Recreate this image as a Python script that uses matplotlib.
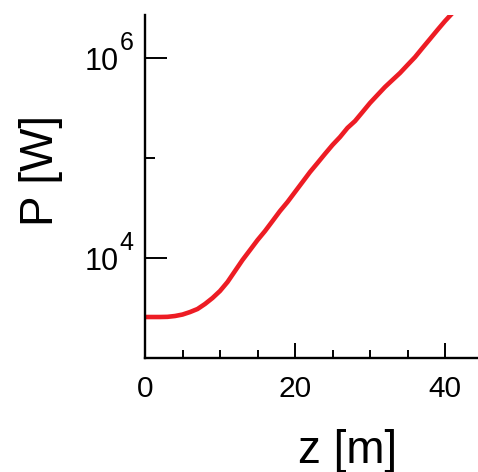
import matplotlib
matplotlib.use("Agg")
import matplotlib.pyplot as plt
import matplotlib.transforms as mtransforms
from matplotlib.ticker import FixedLocator, NullFormatter

plt.rcParams['font.family'] = ['Liberation Sans', 'DejaVu Sans']

# data
z_m = [0, 1, 2, 3, 4, 5, 6, 7, 8, 9, 10, 11, 12, 13, 14, 15, 16, 17, 18, 19, 20,
       21, 22, 23, 24, 25, 26, 27, 28, 29, 30, 31, 32, 33, 34, 35, 36, 37, 38,
       39, 40, 41]
power_W = [2570, 2570, 2570, 2580, 2630, 2720, 2880, 3090, 3470, 3980, 4680,
           5750, 7410, 9550, 12000, 15100, 18600, 23400, 29500, 36300, 45700,
           57500, 72400, 89100, 110000, 135000, 162000, 200000, 234000, 288000,
           355000, 427000, 513000, 603000, 708000, 851000, 1020000, 1260000,
           1550000, 1910000, 2340000, 2820000]
x_major = [0, 20, 40]
x_minor = [5, 10, 15, 25, 30, 35]
y_major = [1e4, 1e6]
y_minor = [1e5]
y_tick_base = ['10', '10']
y_tick_exp = ['4', '6']

fig = plt.figure(figsize=(4.78, 4.72), dpi=100)
ax = fig.add_axes([145/478, 1-358/472, 1-145/478, (358-15)/472])

ax.plot(z_m, power_W, color='#ed1c24', lw=3.3, solid_capstyle='butt')
ax.set_yscale('log')
ax.set_xlim(0, 44.4)
ax.set_ylim(1e3, 10**6.43)

for s in ['top', 'right']:
    ax.spines[s].set_visible(False)
for s in ['left', 'bottom']:
    ax.spines[s].set_linewidth(1.7)
    ax.spines[s].set_color('black')

ax.xaxis.set_major_locator(FixedLocator(x_major))
ax.xaxis.set_minor_locator(FixedLocator(x_minor))
ax.yaxis.set_major_locator(FixedLocator(y_major))
ax.yaxis.set_minor_locator(FixedLocator(y_minor))
ax.yaxis.set_major_formatter(NullFormatter())
ax.yaxis.set_minor_formatter(NullFormatter())

ax.tick_params(axis='x', which='major', direction='in', length=10.8, width=1.4, pad=12, labelsize=21.5)
ax.tick_params(axis='x', which='minor', direction='in', length=5.8, width=1.4)
ax.tick_params(axis='y', which='major', direction='in', length=15.8, width=1.4)
ax.tick_params(axis='y', which='minor', direction='in', length=7.2, width=1.4)

# y tick labels as base + superscript
trans = mtransforms.blended_transform_factory(ax.transAxes, ax.transData)
for yv, b, e in zip(y_major, y_tick_base, y_tick_exp):
    ax.annotate(b, xy=(0, yv), xycoords=trans, xytext=(-19.0, -8.3),
                textcoords='offset points', ha='right', va='baseline',
                fontsize=22, annotation_clip=False)
    ax.annotate(e, xy=(0, yv), xycoords=trans, xytext=(-18.3, 5.8),
                textcoords='offset points', ha='left', va='baseline',
                fontsize=18, annotation_clip=False)

ax.set_xlabel('z [m]', fontsize=33)
ax.xaxis.set_label_coords((348-145)/333, (358-463)/343)
ax.xaxis.label.set_va('baseline')
ax.set_ylabel('P [W]', fontsize=33)
ax.yaxis.set_label_coords((63-145)/333, (358-170)/343)

fig.savefig('out.png', dpi=100)
